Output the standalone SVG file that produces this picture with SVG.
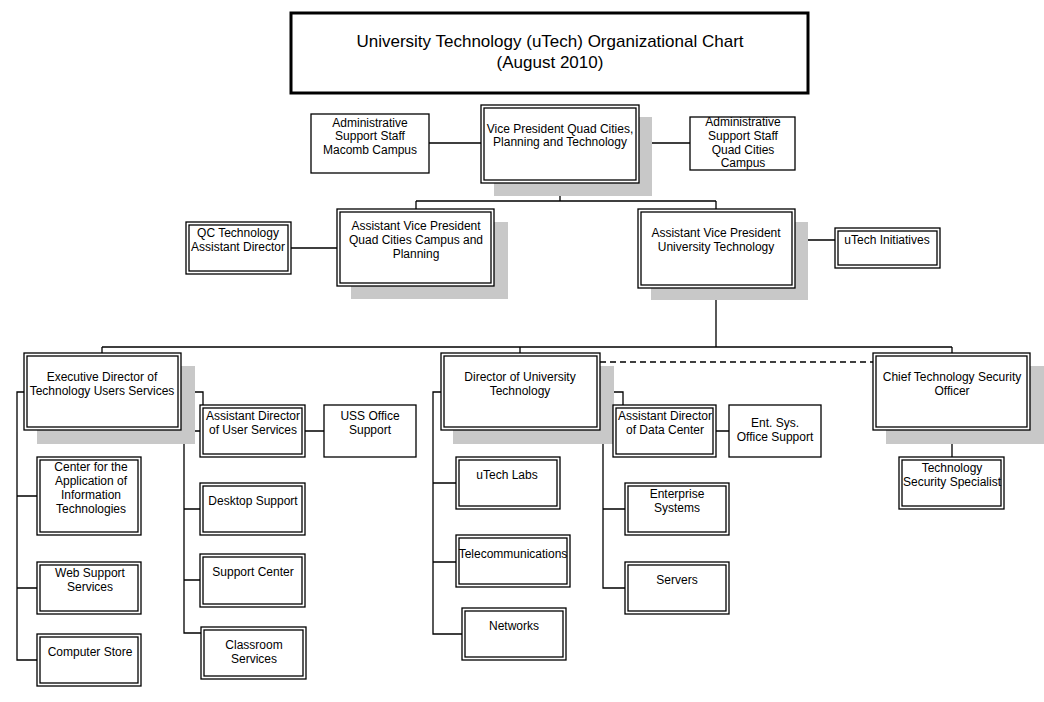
<svg xmlns="http://www.w3.org/2000/svg" width="1044" height="702" viewBox="0 0 1044 702">
<style>
rect{fill:#fff;stroke:#000;stroke-width:1.3}
rect.s{fill:#c8c8c8;stroke:none}
text{font-family:"Liberation Sans",Arial,sans-serif;font-size:12px;text-anchor:middle;fill:#000}
.t{font-size:17px}
.c path{fill:none;stroke:#000;stroke-width:1.3}
</style>
<rect width="1044" height="702" style="fill:#fff;stroke:none"/>
<g id="title"><rect x="291" y="13" width="517" height="80" style="stroke-width:3"/><text class="t" x="550" y="47">University Technology (uTech) Organizational Chart</text><text class="t" x="550" y="68">(August 2010)</text></g>
<g class="c" id="connectors">
<path d="M429 143H481M639 143H690M560 183V201M416 201H716M416 201V209M716 201V209M291 248H337M795 240H835M716 288V347M102 347H952M102 347V353M520 347V353M952 347V353M952 430V457"/>
<path d="M24 392H17V660H37M17 496H37M17 588H37M181 392H203V405M184 431V633H201M184 431H200M184 509H200M184 580H200M305 431H324"/>
<path d="M441 392H433V634H462M433 483H456M433 562H456M600 392H623V405M603 431V588H625M603 431H613M603 509H625M716 431H729"/>
<path d="M600 362H873" stroke-dasharray="6,4"/>
</g>
<g id="vp"><rect class="s" x="494" y="117" width="158" height="79"/><rect x="481" y="105" width="158" height="78"/><rect x="484" y="108" width="152" height="72"/><text x="560" y="133">Vice President Quad Cities,</text><text x="560" y="146">Planning and Technology</text></g>
<g id="admin-macomb"><rect x="311" y="114" width="118" height="59"/><text x="370" y="127">Administrative</text><text x="370" y="140">Support Staff</text><text x="370" y="154">Macomb Campus</text></g>
<g id="admin-qc"><rect x="690" y="117" width="105" height="53"/><text x="743" y="126">Administrative</text><text x="743" y="140">Support Staff</text><text x="743" y="154">Quad Cities</text><text x="743" y="167">Campus</text></g>
<g id="avp-qc"><rect class="s" x="351" y="222" width="157" height="77"/><rect x="337" y="209" width="157" height="77"/><rect x="340" y="212" width="151" height="71"/><text x="416" y="230">Assistant Vice President</text><text x="416" y="244">Quad Cities Campus and</text><text x="416" y="258">Planning</text></g>
<g id="qc-tech"><rect x="186" y="222" width="105" height="52"/><rect x="189" y="225" width="99" height="46"/><text x="238" y="237">QC Technology</text><text x="238" y="251">Assistant Director</text></g>
<g id="avp-ut"><rect class="s" x="651" y="222" width="157" height="78"/><rect x="638" y="209" width="157" height="79"/><rect x="641" y="212" width="151" height="73"/><text x="716" y="237">Assistant Vice President</text><text x="716" y="251">University Technology</text></g>
<g id="utech-init"><rect x="835" y="228" width="105" height="40"/><rect x="838" y="231" width="99" height="34"/><text x="887" y="244">uTech Initiatives</text></g>
<g id="exec"><rect class="s" x="37" y="366" width="158" height="78"/><rect x="24" y="353" width="157" height="77"/><rect x="27" y="356" width="151" height="71"/><text x="102" y="381">Executive Director of</text><text x="102" y="395">Technology Users Services</text></g>
<g id="caiti"><rect x="37" y="457" width="104" height="78"/><rect x="40" y="460" width="98" height="72"/><text x="91" y="471">Center for the</text><text x="91" y="485">Application of</text><text x="91" y="499">Information</text><text x="91" y="513">Technologies</text></g>
<g id="web"><rect x="37" y="562" width="104" height="52"/><rect x="40" y="565" width="98" height="46"/><text x="90" y="577">Web Support</text><text x="90" y="591">Services</text></g>
<g id="store"><rect x="37" y="634" width="104" height="52"/><rect x="40" y="637" width="98" height="46"/><text x="90" y="656">Computer Store</text></g>
<g id="ad-us"><rect x="200" y="405" width="105" height="52"/><rect x="203" y="408" width="99" height="46"/><text x="253" y="420">Assistant Director</text><text x="253" y="434">of User Services</text></g>
<g id="uss"><rect x="324" y="405" width="92" height="52"/><text x="370" y="420">USS Office</text><text x="370" y="434">Support</text></g>
<g id="desktop"><rect x="200" y="483" width="105" height="52"/><rect x="203" y="486" width="99" height="46"/><text x="253" y="505">Desktop Support</text></g>
<g id="support"><rect x="200" y="554" width="105" height="53"/><rect x="203" y="557" width="99" height="47"/><text x="253" y="576">Support Center</text></g>
<g id="classroom"><rect x="201" y="627" width="105" height="52"/><rect x="204" y="630" width="99" height="46"/><text x="254" y="649">Classroom</text><text x="254" y="663">Services</text></g>
<g id="dut"><rect class="s" x="453" y="366" width="161" height="78"/><rect x="441" y="353" width="159" height="77"/><rect x="444" y="356" width="153" height="71"/><text x="520" y="381">Director of University</text><text x="520" y="395">Technology</text></g>
<g id="labs"><rect x="456" y="457" width="104" height="52"/><rect x="459" y="460" width="98" height="46"/><text x="507" y="479">uTech Labs</text></g>
<g id="telecom"><rect x="456" y="535" width="114" height="52"/><rect x="459" y="538" width="108" height="46"/><text x="513" y="558">Telecommunications</text></g>
<g id="networks"><rect x="462" y="608" width="104" height="52"/><rect x="465" y="611" width="98" height="46"/><text x="514" y="630">Networks</text></g>
<g id="ad-dc"><rect x="613" y="405" width="103" height="52"/><rect x="616" y="408" width="97" height="46"/><text x="665" y="420">Assistant Director</text><text x="665" y="434">of Data Center</text></g>
<g id="ent-office"><rect x="729" y="405" width="92" height="52"/><text x="775" y="427">Ent. Sys.</text><text x="775" y="441">Office Support</text></g>
<g id="enterprise"><rect x="625" y="483" width="104" height="52"/><rect x="628" y="486" width="98" height="46"/><text x="677" y="498">Enterprise</text><text x="677" y="512">Systems</text></g>
<g id="servers"><rect x="625" y="562" width="104" height="52"/><rect x="628" y="565" width="98" height="46"/><text x="677" y="584">Servers</text></g>
<g id="ctso"><rect class="s" x="886" y="366" width="158" height="78"/><rect x="873" y="353" width="157" height="77"/><rect x="876" y="356" width="151" height="71"/><text x="952" y="381">Chief Technology Security</text><text x="952" y="395">Officer</text></g>
<g id="tss"><rect x="899" y="457" width="105" height="52"/><rect x="902" y="460" width="99" height="46"/><text x="952" y="472">Technology</text><text x="952" y="486">Security Specialist</text></g>
</svg>
